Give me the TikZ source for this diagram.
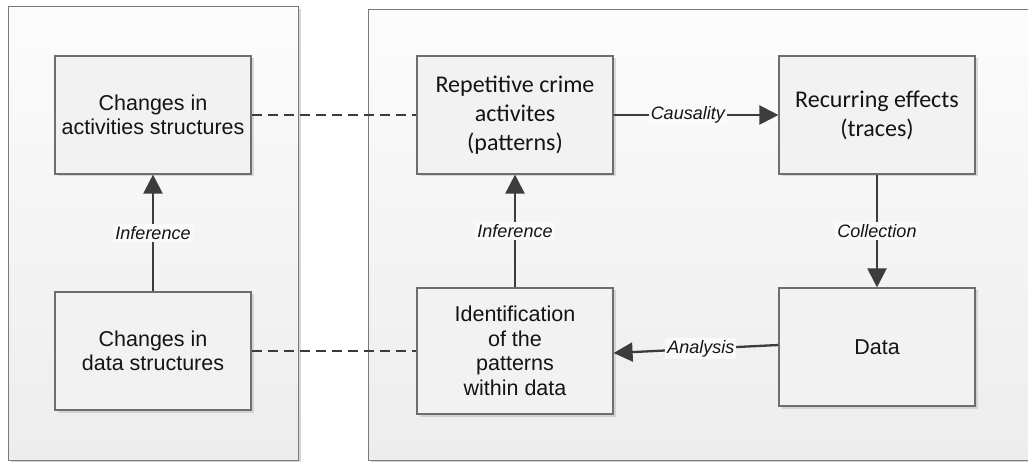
\documentclass[tikz,border=0pt]{standalone}
\usepackage{fontspec}
\setmainfont{Liberation Sans}
\newfontfamily\calfont{Carlito}
\usetikzlibrary{shadows,arrows.meta}
\definecolor{panelline}{HTML}{7A7A7A}
\definecolor{boxline}{HTML}{6E6E6E}
\definecolor{boxfill}{HTML}{F2F2F2}
\definecolor{linkcol}{HTML}{3C3C3C}
\definecolor{paneltop}{HTML}{FCFCFC}
\definecolor{panelbot}{HTML}{EDEDED}
\tikzset{
  panel/.style={draw=panelline, line width=1pt, top color=paneltop, bottom color=panelbot,
    drop shadow={shadow xshift=2.5pt, shadow yshift=-2.5pt, fill=black!35, opacity=.45}},
  stepbox/.style={draw=boxline, line width=1.2pt, fill=boxfill, minimum width=196pt,
    minimum height=118pt, inner sep=0pt, align=center, text=black!92,
    drop shadow={shadow xshift=2.5pt, shadow yshift=-2.5pt, fill=black!30, opacity=.45},
    font=\fontsize{21.5}{24.5}\selectfont},
  calbox/.style={stepbox, font=\calfont\fontsize{24}{29}\selectfont},
  flow/.style={draw=linkcol, line width=2.3pt, -{Triangle[length=19pt,width=19pt]}},
  tie/.style={draw=linkcol, line width=2.3pt, dash pattern=on 10pt off 6pt},
  tag/.style={fill=white!60!boxfill, inner sep=2pt, text=black!92,
    font=\fontsize{18}{20}\selectfont\itshape}
}
\begin{document}
\begin{tikzpicture}[x=1pt, y=-1pt]
\useasboundingbox (0,0) rectangle (1028,462);
% the two panels
\path[panel] (8,7) rectangle (298,460);
\path[panel] (368,10) rectangle (1040,460);
\useasboundingbox (0,0) rectangle (1028,462);
% boxes of the left panel
\node[stepbox] (cas) at (153,115) {Changes in\\activities structures};
\node[stepbox] (cds) at (153,351) {Changes in\\data structures};
% boxes of the right panel
\node[calbox] (rep) at (515,115) {Repetitive crime\\activites\\(patterns)};
\node[stepbox, minimum height=126pt] (idf) at (515,351) {Identification\\of the\\patterns\\within data};
\node[calbox] (rec) at (877,115) {Recurring effects\\(traces)};
\node[stepbox] (dat) at (877,347) {Data};
% dashed ties between the panels
\draw[tie] (cas.east) -- (rep.west);
\draw[tie] (cds.east) -- (idf.west);
% flows
\draw[flow] (cds.north) -- node[tag] {Inference} (cas.south);
\draw[flow] (idf.north) -- node[tag] {Inference} (rep.south);
\draw[flow] (rep.east) -- node[tag, pos=0.45] {Causality} (rec.west);
\draw[flow] (rec.south) -- node[tag] {Collection} (dat.north);
\draw[flow] ([yshift=2pt]dat.west) -- node[tag, pos=0.47] {Analysis} ([yshift=-2pt]idf.east);
\end{tikzpicture}
\end{document}
